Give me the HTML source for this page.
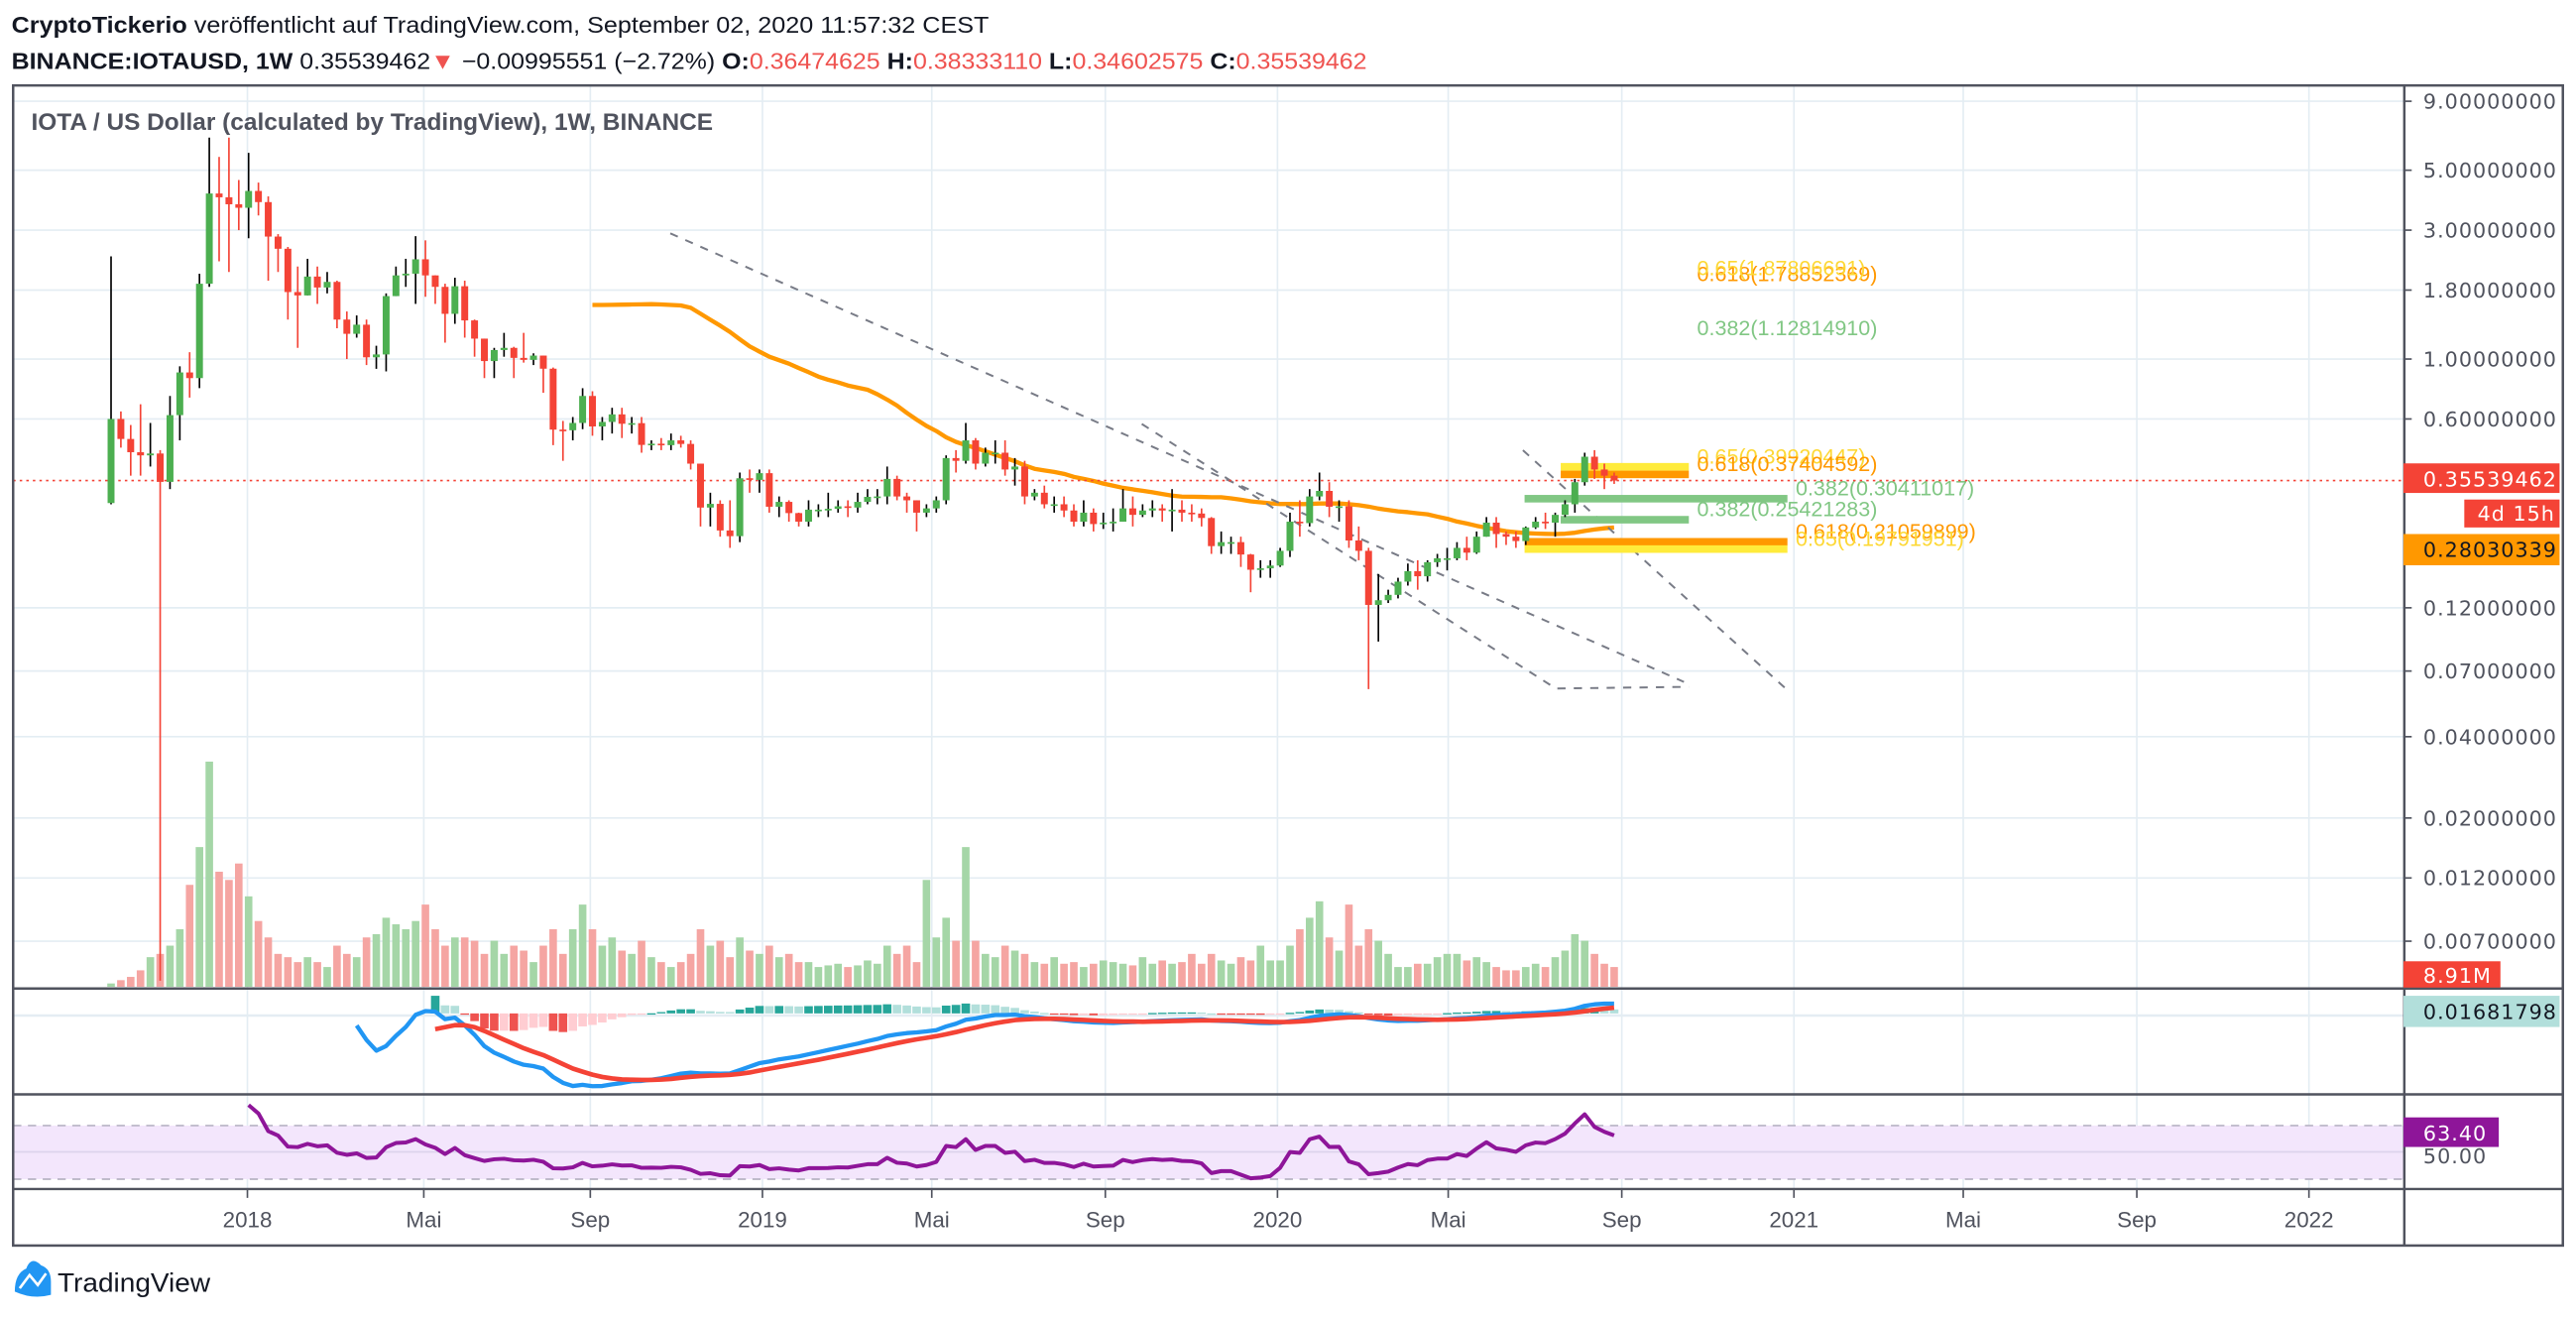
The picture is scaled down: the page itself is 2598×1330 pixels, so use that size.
<!DOCTYPE html>
<html><head><meta charset="utf-8"><title>IOTAUSD 1W</title>
<style>
html,body{margin:0;padding:0;background:#fff;width:2598px;height:1330px;overflow:hidden}
svg{display:block}
text{font-family:"Liberation Sans",sans-serif}
.ax{font-family:"DejaVu Sans","Liberation Sans",sans-serif;font-size:12.5px;fill:#50535e;letter-spacing:0.6px}
.tl{font-family:"Liberation Sans",sans-serif;font-size:13.5px;fill:#50535e}
.fib{font-family:"Liberation Sans",sans-serif;font-size:13px}
</style></head>
<body>
<svg id="chart" xmlns="http://www.w3.org/2000/svg" width="2598" height="1330" viewBox="0 0 1568 802.7" preserveAspectRatio="none">
<defs>
<clipPath id="cpMain"><rect x="8" y="52" width="1455" height="549"/></clipPath>
<clipPath id="cpMacd"><rect x="8" y="602" width="1455" height="63"/></clipPath>
<clipPath id="cpRsi"><rect x="8" y="667" width="1455" height="56"/></clipPath>
</defs>
<rect x="0" y="0" width="1568" height="803" fill="#fff"/>
<text x="7" y="20" font-size="14" fill="#131722" textLength="595" lengthAdjust="spacingAndGlyphs"><tspan font-weight="bold">CryptoTickerio</tspan> veröffentlicht auf TradingView.com, September 02, 2020 11:57:32 CEST</text>
<text x="7" y="42" font-size="14" fill="#131722" textLength="825" lengthAdjust="spacingAndGlyphs"><tspan font-weight="bold">BINANCE:IOTAUSD, 1W</tspan> 0.35539462<tspan fill="#ef5350">▼</tspan> −0.00995551 (−2.72%) <tspan font-weight="bold">O:</tspan><tspan fill="#ef5350">0.36474625</tspan> <tspan font-weight="bold">H:</tspan><tspan fill="#ef5350">0.38333110</tspan> <tspan font-weight="bold">L:</tspan><tspan fill="#ef5350">0.34602575</tspan> <tspan font-weight="bold">C:</tspan><tspan fill="#ef5350">0.35539462</tspan></text>
<g id="grid"></g>
<rect x="8" y="685" width="1455" height="32.6" fill="#f3e6fc"/>
<line x1="8" x2="1463" y1="685" y2="685" stroke="#b8b4c4" stroke-dasharray="5,4"/>
<line x1="8" x2="1463" y1="717.6" y2="717.6" stroke="#b8b4c4" stroke-dasharray="5,4"/>
<line x1="8" x2="1463" y1="701" y2="701" stroke="#dcd3ec"/>
<g id="vol" clip-path="url(#cpMain)"></g>
<g id="draw" clip-path="url(#cpMain)"></g>
<g id="candles" clip-path="url(#cpMain)"></g>
<g id="macd" clip-path="url(#cpMacd)"></g>
<g id="rsi" clip-path="url(#cpRsi)"></g>
<text x="19" y="79" font-size="14.5" font-weight="bold" fill="#50535e" textLength="415" lengthAdjust="spacingAndGlyphs">IOTA / US Dollar (calculated by TradingView), 1W, BINANCE</text>
<g id="axis"></g>
<g id="taxis"></g>
<g fill="none" stroke="#50535e" stroke-width="1.5">
<rect x="8" y="52" width="1552" height="706"/>
<line x1="1463.5" x2="1463.5" y1="52" y2="758"/>
<line x1="8" x2="1560" y1="601.6" y2="601.6"/>
<line x1="8" x2="1560" y1="666" y2="666"/>
<line x1="8" x2="1560" y1="723.6" y2="723.6"/>
</g>
<g><rect x="1463" y="282" width="95" height="18" fill="#f44336"/><text class="ax" x="1475" y="296" style="fill:#fff">0.35539462</text></g>
<g><rect x="1500" y="304" width="58" height="17" fill="#f44336"/><text class="ax" x="1508" y="317" style="fill:#fff">4d 15h</text></g>
<g><rect x="1463" y="325" width="95" height="19" fill="#ff9800"/><text class="ax" x="1475" y="339" style="fill:#131722">0.28030339</text></g>
<g><rect x="1463" y="585" width="59" height="16" fill="#f44336"/><text class="ax" x="1475" y="598" style="fill:#fff">8.91M</text></g>
<g><rect x="1463" y="606" width="95" height="19" fill="#b2dfdb"/><text class="ax" x="1475" y="620" style="fill:#131722">0.01681798</text></g>
<text class="ax" x="1475" y="708">50.00</text>
<g><rect x="1463" y="680" width="58" height="18" fill="#8e1599"/><text class="ax" x="1475" y="694" style="fill:#fff">63.40</text></g>
<g>
<path d="M9 786 Q9 775 16 772 Q19 764 25 770 Q31 772 31 780 L31 788 Q20 791 9 786 Z" fill="#2196f3"/>
<path d="M12 784 L18 776 L23 782 L28 775" stroke="#fff" stroke-width="1.6" fill="none"/>
<text x="35" y="786" font-size="16" fill="#131722" textLength="93" lengthAdjust="spacingAndGlyphs">TradingView</text>
</g>
</svg>
<script>
// ---- data (weekly, from 2017-09-25) ----
const firstOpen = 0.293;
const closes = [0.60,0.506,0.452,0.44,0.447,0.351,0.62,0.892,0.85,1.90,
4.10,3.97,3.74,3.63,4.19,3.81,2.84,2.56,1.77,1.72,
2.02,1.84,1.93,1.40,1.24,1.34,1.015,1.04,1.71,2.04,
2.07,2.34,2.04,1.85,1.47,1.86,1.39,1.19,0.983,1.08,
1.10,1.01,0.993,1.03,0.921,0.548,0.545,0.58,0.73,0.563,
0.585,0.624,0.576,0.579,0.481,0.486,0.48,0.50,0.485,0.41,
0.282,0.291,0.232,0.221,0.362,0.357,0.378,0.284,0.296,0.269,
0.25,0.277,0.277,0.279,0.285,0.282,0.296,0.309,
0.31,0.36,0.31,0.30,0.27,0.28,0.30,0.43,0.42,0.50,
0.41,0.45,0.45,0.39,0.40,0.31,0.32,0.29,0.29,0.275,
0.25,0.27,0.245,0.248,0.25,0.28,0.265,0.275,0.28,0.275,
0.277,0.27,0.268,0.258,0.203,0.21,0.21,0.189,0.166,0.168,
0.172,0.195,0.25,0.247,0.31,0.325,0.284,0.285,0.213,0.195,
0.123,0.128,0.134,0.15,0.164,0.157,0.177,0.183,0.183,0.20,
0.192,0.22,0.248,0.225,0.22,0.212,0.238,0.25,0.248,0.265,
0.29,0.35,0.435,0.39,0.37,0.355];
const highs = [2.4,0.64,0.57,0.68,0.58,0.46,0.73,0.94,1.06,2.07,
6.6,5.6,6.6,4.6,5.8,4.5,4.0,2.9,2.6,2.2,
2.35,2.2,2.1,1.95,1.5,1.45,1.4,1.12,1.75,2.2,
2.35,2.85,2.75,2.0,1.9,2.0,1.95,1.4,1.15,1.1,
1.25,1.11,1.25,1.05,1.0,0.93,0.59,0.61,0.78,0.76,
0.61,0.66,0.66,0.61,0.61,0.5,0.51,0.53,0.52,0.5,
0.41,0.32,0.3,0.3,0.38,0.39,0.39,0.39,0.31,0.3,
0.27,0.3,0.29,0.32,0.3,0.3,0.32,0.33,
0.33,0.4,0.37,0.32,0.3,0.29,0.31,0.44,0.46,0.58,
0.51,0.47,0.5,0.5,0.43,0.42,0.33,0.34,0.31,0.31,
0.29,0.3,0.28,0.27,0.28,0.33,0.31,0.29,0.3,0.29,
0.33,0.3,0.29,0.28,0.26,0.23,0.22,0.22,0.19,0.18,
0.18,0.2,0.27,0.3,0.33,0.38,0.35,0.3,0.3,0.24,
0.2,0.16,0.14,0.155,0.175,0.18,0.18,0.19,0.2,0.21,
0.22,0.23,0.26,0.26,0.23,0.23,0.24,0.26,0.27,0.27,
0.3,0.36,0.45,0.46,0.41,0.38];
const lows = [0.29,0.47,0.37,0.37,0.40,0.005,0.33,0.5,0.72,0.78,
1.85,2.3,2.1,3.0,2.8,3.4,1.95,2.1,1.4,1.1,
1.72,1.6,1.75,1.3,1.0,1.2,0.95,0.92,0.9,1.8,
1.85,1.6,1.7,1.6,1.15,1.35,1.2,1.02,0.85,0.85,
1.02,0.85,0.97,0.95,0.75,0.48,0.42,0.5,0.55,0.52,
0.5,0.53,0.51,0.53,0.45,0.46,0.46,0.46,0.47,0.39,
0.24,0.24,0.22,0.2,0.21,0.32,0.32,0.27,0.26,0.25,
0.24,0.24,0.26,0.26,0.27,0.26,0.27,0.29,
0.29,0.29,0.3,0.27,0.23,0.26,0.27,0.29,0.38,0.41,
0.39,0.4,0.41,0.37,0.34,0.29,0.3,0.28,0.27,0.26,
0.24,0.24,0.23,0.235,0.23,0.25,0.24,0.26,0.26,0.25,
0.23,0.25,0.25,0.24,0.19,0.19,0.19,0.17,0.137,0.155,
0.155,0.17,0.185,0.22,0.24,0.3,0.26,0.25,0.2,0.18,
0.06,0.09,0.125,0.13,0.145,0.14,0.15,0.17,0.165,0.18,
0.18,0.19,0.22,0.2,0.205,0.2,0.205,0.235,0.235,0.22,
0.26,0.27,0.34,0.36,0.33,0.345];
const volumes = [2,4,6,10,18,20,25,35,62,85,
137,70,65,75,55,40,30,20,18,15,
18,15,12,25,20,18,30,32,42,38,
35,40,50,35,25,30,30,28,20,28,
20,25,22,15,25,35,20,35,50,35,
25,30,22,20,28,18,15,12,15,20,
35,25,28,18,30,22,20,25,18,20,
15,15,12,13,14,12,13,16,14,25,
20,25,15,65,30,42,28,85,28,20,
18,25,22,20,15,14,18,14,15,12,
14,16,15,14,13,18,14,16,14,15,
20,14,20,16,14,18,16,25,16,16,
25,35,42,52,30,22,50,25,35,28,
20,12,12,14,14,18,20,20,16,18,
15,12,10,10,12,14,12,18,22,32,
28,20,14,12];
const priceTicks = [9,5,3,1.8,1,0.6,0.12,0.07,0.04,0.02,0.012,0.007];
const timeLabels = ['2018','Mai','Sep','2019','Mai','Sep','2020','Mai','Sep','2021','Mai','Sep','2022'];
const timeDates = ['2018-01-01','2018-05-06','2018-09-01','2019-01-01','2019-05-01','2019-09-01','2020-01-01','2020-05-01','2020-09-01','2021-01-01','2021-05-01','2021-09-01','2022-01-01'];
const fibLevels = [
 {t:'0.65(0.39920447)', p:0.39920447, c:'#ffeb3b', tx:'#fdd835'},
 {t:'0.618(0.37404592)', p:0.37404592, c:'#ff9800', tx:'#ff9800'},
 {t:'0.382(0.25421283)', p:0.25421283, c:'#81c784', tx:'#81c784'}];
const fibLevels2 = [
 {t:'0.382(0.30411017)', p:0.30411017, c:'#81c784', tx:'#81c784'},
 {t:'0.618(0.21059899)', p:0.21059899, c:'#ff9800', tx:'#ff9800'},
 {t:'0.65(0.19791951)', p:0.19791951, c:'#ffeb3b', tx:'#fdd835'}];
const fibTopLabels = [
 {t:'0.618(1.78852369)', p:1.78852369, tx:'#ff9800'},
 {t:'0.65(1.87806691)', p:1.87806691, tx:'#fdd835'},
 {t:'0.382(1.12814910)', p:1.12814910, tx:'#81c784'}];

// ---- scales ----
const NS = 'http://www.w3.org/2000/svg';
const yP = p => 218.5 - 71.4 * Math.log(p);
const xI = i => 67.6 + 5.98 * i;
const xD = d => 150.6 + (Date.parse(d) - Date.parse('2018-01-01')) / 86400000 * 0.8589;
function el(tag, parent, attrs) {
  const e = document.createElementNS(NS, tag);
  for (const k in attrs) e.setAttribute(k, attrs[k]);
  parent.appendChild(e);
  return e;
}
const G = id => document.getElementById(id);

// grid + axes
priceTicks.forEach(p => {
  const y = yP(p);
  const g = el('line', G('grid'), {x1:8, x2:1463, y1:y, y2:y, stroke:'#e4edf3', 'stroke-width':1});
  
  
  const tk = el('line', G('axis'), {x1:1463, x2:1468, y1:y, y2:y, stroke:'#50535e'});
  
  
  const t = el('text', G('axis'), {x:1475, y:y + 4.5, class:'ax'});
  
  
  t.textContent = p.toFixed(8);
});
timeDates.forEach((d, k) => {
  const x = xD(d);
  const g = el('line', G('grid'), {x1:x, x2:x, y1:52, y2:723, stroke:'#e4edf3', 'stroke-width':1});
  
  
  const tk = el('line', G('taxis'), {x1:x, x2:x, y1:723.6, y2:729, stroke:'#50535e'});
  
  
  const t = el('text', G('taxis'), {x:x, y:747, class:'tl', 'text-anchor':'middle'});
  
  
  t.textContent = timeLabels[k];
});
const mz = el('line', G('grid'), {x1:8, x2:1463, y1:618, y2:618, stroke:'#e4edf3', 'stroke-width':1.5});



// opens
const opens = closes.map((c, i) => i === 0 ? firstOpen : closes[i - 1]);

// volume
const vMax = Math.max(...volumes);
volumes.forEach((v, i) => {
  const h = v / vMax * 137;
  const up = closes[i] >= opens[i];
  const r = el('rect', G('vol'), {x:xI(i) - 2.3, y:600.5 - h, width:4.6, height:h, fill: up ? '#a5d6a7' : '#f5a5a2'});
  
  
});

// SMA 50
let smaPts = [];
for (let i = 49; i < closes.length; i++) {
  let s = 0; for (let j = i - 49; j <= i; j++) s += closes[j];
  smaPts.push(xI(i).toFixed(1) + ',' + yP(s / 50).toFixed(1));
}
const sma = el('polyline', G('draw'), {points:smaPts.join(' '), fill:'none', stroke:'#ff9800', 'stroke-width':2.6, 'stroke-linejoin':'round'});



// trend lines (drawings)
const dash = {fill:'none', stroke:'#787b86', 'stroke-width':1.2, 'stroke-dasharray':'5,5'};
const tl1 = el('polyline', G('draw'), Object.assign({points:'408,142 1025,415'}, dash));


const tl2 = el('polyline', G('draw'), Object.assign({points:'695,258 947,419 1028,418'}, dash));


const tl3 = el('polyline', G('draw'), Object.assign({points:'927,274 1088,420'}, dash));



// fib bars
fibLevels.forEach(f => {
  const r = el('rect', G('draw'), {x:950, y:yP(f.p) - 2.3, width:78, height:4.6, fill:f.c});
  
  
});
fibLevels2.forEach(f => {
  const r = el('rect', G('draw'), {x:928, y:yP(f.p) - 2.3, width:160, height:4.6, fill:f.c});
  
  
});
fibLevels.forEach(f => {
  const t = el('text', G('draw'), {x:1033, y:yP(f.p) - 2, class:'fib', fill:f.tx});
  
  
  t.textContent = f.t;
});
fibLevels2.forEach(f => {
  const t = el('text', G('draw'), {x:1093, y:yP(f.p) - 2, class:'fib', fill:f.tx});
  
  
  t.textContent = f.t;
});
fibTopLabels.forEach(f => {
  const t = el('text', G('draw'), {x:1033, y:yP(f.p) - 6, class:'fib', fill:f.tx});
  
  
  t.textContent = f.t;
});

// current price line
const cp = el('line', G('draw'), {x1:8, x2:1463, y1:yP(closes[closes.length - 1]), y2:yP(closes[closes.length - 1]), stroke:'#f44336', 'stroke-width':1, 'stroke-dasharray':'1.5,2.5'});



// candles
closes.forEach((c, i) => {
  const o = opens[i];
  const up = c >= o;
  const x = xI(i);
  const hi = Math.max(highs[i], o, c), lo = Math.min(lows[i], o, c);
  const w = el('line', G('candles'), {x1:x, x2:x, y1:yP(hi), y2:yP(lo), stroke: up ? '#000' : '#f44336', 'stroke-width':1});
  
  
  const yt = yP(Math.max(o, c)), yb = yP(Math.min(o, c));
  const b = el('rect', G('candles'), {x:x - 2.1, y:yt, width:4.2, height:Math.max(1, yb - yt), fill: up ? '#4caf50' : '#f44336'});
  
  
});

// MACD
function ema(src, n, start) {
  const out = new Array(src.length).fill(null);
  const a = 2 / (n + 1);
  let s = 0;
  for (let i = start; i < start + n; i++) s += src[i];
  let e = s / n; out[start + n - 1] = e;
  for (let i = start + n; i < src.length; i++) { e = a * src[i] + (1 - a) * e; out[i] = e; }
  return out;
}
const e12 = ema(closes, 12, 0), e26 = ema(closes, 26, 0);
const macdV = closes.map((c, i) => (e12[i] !== null && e26[i] !== null) ? e12[i] - e26[i] : null);
const sigRaw = ema(macdV.map(v => v === null ? 0 : v), 9, 25);
const sigV = sigRaw.map((v, i) => i >= 33 ? v : null);
const histV = macdV.map((m, i) => (m !== null && sigV[i] !== null) ? m - sigV[i] : null);
const allM = [...macdV, ...sigV, ...histV].filter(v => v !== null);
const mMax = Math.max(...allM), mMin = Math.min(...allM);
const yM = v => 606 + (mMax - v) / (mMax - mMin) * 55;
const zeroY = yM(0);
histV.forEach((h, i) => {
  if (h === null) return;
  const prev = i > 0 && histV[i - 1] !== null ? histV[i - 1] : h;
  let col;
  if (h >= 0) col = h >= prev ? '#26a69a' : '#b2dfdb'; else col = h <= prev ? '#ef5350' : '#ffcdd2';
  const y1 = Math.min(zeroY, yM(h)), y2 = Math.max(zeroY, yM(h));
  const r = el('rect', G('macd'), {x:xI(i) - 2.6, y:y1, width:5.2, height:Math.max(0.8, y2 - y1), fill:col});
  
  
});
const mp = [], sp = [];
macdV.forEach((v, i) => { if (v !== null) mp.push(xI(i).toFixed(1) + ',' + yM(v).toFixed(1)); });
sigV.forEach((v, i) => { if (v !== null) sp.push(xI(i).toFixed(1) + ',' + yM(v).toFixed(1)); });
const ml = el('polyline', G('macd'), {points:mp.join(' '), fill:'none', stroke:'#2196f3', 'stroke-width':2.6, 'stroke-linejoin':'round'});


const sl = el('polyline', G('macd'), {points:sp.join(' '), fill:'none', stroke:'#f44336', 'stroke-width':2.8, 'stroke-linejoin':'round'});



// RSI 14 (Wilder)
const rsiV = new Array(closes.length).fill(null);
{
  let g = 0, l = 0;
  for (let i = 1; i <= 14; i++) { const d = closes[i] - closes[i - 1]; if (d > 0) g += d; else l -= d; }
  g /= 14; l /= 14;
  rsiV[14] = l === 0 ? 100 : 100 - 100 / (1 + g / l);
  for (let i = 15; i < closes.length; i++) {
    const d = closes[i] - closes[i - 1];
    g = (g * 13 + Math.max(d, 0)) / 14; l = (l * 13 + Math.max(-d, 0)) / 14;
    rsiV[i] = l === 0 ? 100 : 100 - 100 / (1 + g / l);
  }
}
const yR = r => 701 - (r - 50) * 0.815;
const rp = [];
rsiV.forEach((v, i) => { if (v !== null) rp.push(xI(i).toFixed(1) + ',' + yR(v).toFixed(1)); });
const rl = el('polyline', G('rsi'), {points:rp.join(' '), fill:'none', stroke:'#8e1599', 'stroke-width':2.4, 'stroke-linejoin':'round'});


</script>
</body></html>
